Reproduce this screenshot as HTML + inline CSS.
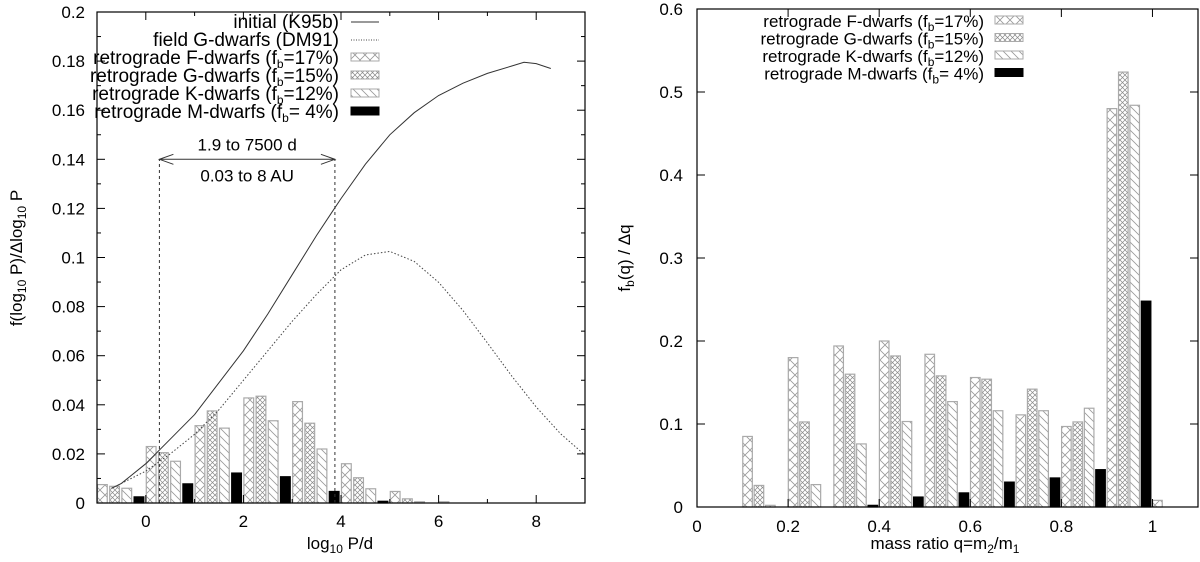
<!DOCTYPE html>
<html><head><meta charset="utf-8"><style>
html,body{margin:0;padding:0;background:#fff;}
svg{display:block;font-family:"Liberation Sans",Arial,sans-serif;}
</style></head><body>
<svg id="c" width="1200" height="562" viewBox="0 0 1200 562">
<defs>
<pattern id="pF" patternUnits="userSpaceOnUse" width="10" height="10"><path d="M0,0L10,10M10,0L0,10" stroke="#999" stroke-width="0.8" fill="none"/></pattern>
<pattern id="pG" patternUnits="userSpaceOnUse" width="5" height="5"><path d="M0,0L5,5M5,0L0,5" stroke="#888" stroke-width="0.7" fill="none"/></pattern>
<pattern id="pK" patternUnits="userSpaceOnUse" width="8" height="8"><path d="M0,0L8,8M-4,4L4,12M4,-4L12,4" stroke="#999" stroke-width="0.8" fill="none"/></pattern>
</defs>
<g id="left"></g>
<g id="right"></g>
</svg>
<script>
// ---- Left panel data ----
const pBins = [-1, 0, 1, 2, 3, 4, 5, 6, 7, 8];
const pF = [0.0075, 0.023, 0.0315, 0.0428, 0.0413, 0.016, 0.0047, 0.0005, 0, 0];
const pG = [0.0068, 0.0205, 0.0375, 0.0435, 0.0325, 0.0103, 0.0017, 0, 0, 0];
const pK = [0.006, 0.017, 0.0305, 0.0335, 0.022, 0.0058, 0.0005, 0, 0, 0];
const pM = [0.0025, 0.0078, 0.0122, 0.0107, 0.0047, 0.0007, 0, 0, 0, 0];
const initX = [-0.7, -0.5, 0, 0.5, 1, 1.5, 2, 2.5, 3, 3.5, 3.8, 4, 4.5, 5, 5.5, 6, 6.5, 7, 7.5, 7.75, 8, 8.3];
const initY = [0.006, 0.008, 0.016, 0.026, 0.036, 0.049, 0.062, 0.077, 0.093, 0.109, 0.118, 0.124, 0.138, 0.150, 0.159, 0.166, 0.171, 0.175, 0.178, 0.1795, 0.179, 0.177];
const dmX = [-0.7, -0.5, 0, 0.5, 1, 1.5, 2, 2.5, 3, 3.5, 4, 4.5, 5, 5.5, 6, 6.5, 7, 7.5, 8, 8.5, 9];
const dmY = [0.006, 0.008, 0.013, 0.020, 0.028, 0.038, 0.050, 0.062, 0.074, 0.085, 0.095, 0.101, 0.1025, 0.0984, 0.0899, 0.0784, 0.0652, 0.0517, 0.0391, 0.0282, 0.0195];
const pXTicks = [0, 2, 4, 6, 8];
const pYTicks = [0, 0.02, 0.04, 0.06, 0.08, 0.1, 0.12, 0.14, 0.16, 0.18, 0.2];
const rangeLo = Math.log10(1.9), rangeHi = Math.log10(7500), rangeY = 0.14;
// ---- Right panel data ----
const qBins = [0.1, 0.2, 0.3, 0.4, 0.5, 0.6, 0.7, 0.8, 0.9, 1.0];
const qF = [0.085, 0.18, 0.194, 0.2, 0.184, 0.156, 0.111, 0.097, 0.48, 0.008];
const qG = [0.026, 0.1025, 0.16, 0.182, 0.158, 0.154, 0.142, 0.1025, 0.524, 0];
const qK = [0.002, 0.027, 0.076, 0.103, 0.127, 0.116, 0.116, 0.119, 0.484, 0];
const qM = [0, 0, 0.002, 0.012, 0.017, 0.03, 0.035, 0.045, 0.248, 0];
const qXTicks = [0, 0.2, 0.4, 0.6, 0.8, 1];
const qXTickLabels = ["0", "0.2", "0.4", "0.6", "0.8", "1"];
const qYTicks = [0, 0.1, 0.2, 0.3, 0.4, 0.5, 0.6];

const NS = "http://www.w3.org/2000/svg";
const FS = 17;
function mk(parent, tag, attrs, text) {
  const e = document.createElementNS(NS, tag);
  for (const k in attrs) e.setAttribute(k, attrs[k]);
  if (text !== undefined) e.textContent = text;
  parent.appendChild(e);
  return e;
}
const fills = ["url(#pF)", "url(#pG)", "url(#pK)", "#000"];
const sers = ["f", "g", "k", "m"];
const sub = s => '<tspan font-size="12" dy="4">' + s + '</tspan>';

// ---------- LEFT ----------
(function () {
  const g = document.getElementById("left");
  const X0 = 97, X1 = 585, Y0 = 503, Y1 = 12;
  const xs = v => X0 + (v + 1) / 10 * (X1 - X0);
  const ys = v => Y0 - v / 0.2 * (Y0 - Y1);
  const series = [pF, pG, pK, pM];
  series.forEach((arr, si) => {
    arr.forEach((v, i) => {
      if (v <= 0) return;
      const x = xs(pBins[i] + si * 0.25 + 0.01), w = xs(pBins[i] + si * 0.25 + 0.21) - x;
      const r = mk(g, "rect", {x: x, y: ys(v), width: w, height: ys(0) - ys(v), fill: fills[si], stroke: si == 3 ? "#000" : "#aaa", "stroke-width": 1.2});
      
      
    });
  });
  let d = initX.map((x, i) => (i ? "L" : "M") + xs(x).toFixed(1) + "," + ys(initY[i]).toFixed(1)).join("");
  const c1 = mk(g, "path", {d: d, fill: "none", stroke: "#333", "stroke-width": 1});
  
  
  d = dmX.map((x, i) => (i ? "L" : "M") + xs(x).toFixed(1) + "," + ys(dmY[i]).toFixed(1)).join("");
  const c2 = mk(g, "path", {d: d, fill: "none", stroke: "#444", "stroke-width": 1, "stroke-dasharray": "1.5,2"});
  
  
  [rangeLo, rangeHi].forEach((v, i) => {
    const l = mk(g, "line", {x1: xs(v), x2: xs(v), y1: ys(0), y2: ys(rangeY), stroke: "#333", "stroke-dasharray": "3,3"});
    
    
  });
  const ya = ys(rangeY), xa = xs(rangeLo), xb = xs(rangeHi);
  const ar = mk(g, "path", {d: `M${xa},${ya}L${xb},${ya}M${xa + 14},${ya - 5}L${xa},${ya}L${xa + 14},${ya + 5}M${xb - 14},${ya - 5}L${xb},${ya}L${xb - 14},${ya + 5}`, fill: "none", stroke: "#333", "stroke-width": 1});
  
  
  const t1 = mk(g, "text", {x: (xa + xb) / 2, y: ya - 9, "text-anchor": "middle", "font-size": FS}, "1.9 to 7500 d");
  
  
  const t2 = mk(g, "text", {x: (xa + xb) / 2, y: ya + 22, "text-anchor": "middle", "font-size": FS}, "0.03 to 8 AU");
  
  
  const fr = mk(g, "rect", {x: X0, y: Y1, width: X1 - X0, height: Y0 - Y1, fill: "none", stroke: "#000", "stroke-width": 1.2});
  
  
  for (let v = -1; v <= 9; v++) {
    const len = v % 2 === 0 ? 8 : 4;
    mk(g, "line", {x1: xs(v), x2: xs(v), y1: Y0, y2: Y0 - len, stroke: "#000"});
    mk(g, "line", {x1: xs(v), x2: xs(v), y1: Y1, y2: Y1 + len, stroke: "#000"});
  }
  pXTicks.forEach(v => {
    const t = mk(g, "text", {x: xs(v), y: Y0 + 24, "text-anchor": "middle", "font-size": FS}, String(v));
    
    
  });
  for (let v = 0; v <= 0.2001; v += 0.01) {
    const major = Math.round(v * 100) % 2 === 0;
    const len = major ? 8 : 4;
    mk(g, "line", {x1: X0, x2: X0 + len, y1: ys(v), y2: ys(v), stroke: "#000"});
    mk(g, "line", {x1: X1, x2: X1 - len, y1: ys(v), y2: ys(v), stroke: "#000"});
  }
  pYTicks.forEach(v => {
    const t = mk(g, "text", {x: X0 - 12, y: ys(v) + 6, "text-anchor": "end", "font-size": FS}, String(v));
    
    
  });
  const xt = mk(g, "text", {x: 340, y: 549, "text-anchor": "middle", "font-size": FS});
  xt.innerHTML = 'log' + sub('10') + '<tspan dy="-4"> P/d</tspan>';
  
  
  const yt = mk(g, "text", {transform: "translate(22,258) rotate(-90)", "text-anchor": "middle", "font-size": FS});
  yt.innerHTML = 'f(log' + sub('10') + '<tspan dy="-4"> P)/Δlog</tspan>' + sub('10') + '<tspan dy="-4"> P</tspan>';
  
  
  const lg = mk(g, "g", {});
  
  
  const labels = [
    'initial (K95b)', 'field G-dwarfs (DM91)',
    'retrograde F-dwarfs (f' + sub('b') + '<tspan dy="-4">=17%)</tspan>',
    'retrograde G-dwarfs (f' + sub('b') + '<tspan dy="-4">=15%)</tspan>',
    'retrograde K-dwarfs (f' + sub('b') + '<tspan dy="-4">=12%)</tspan>',
    'retrograde M-dwarfs (f' + sub('b') + '<tspan dy="-4">= 4%)</tspan>'];
  labels.forEach((s, i) => {
    const y = 28 + i * 18;
    const t = mk(lg, "text", {x: 339, y: y, "text-anchor": "end", "font-size": 19});
    t.innerHTML = s;
    
    
    if (i === 0) mk(lg, "line", {x1: 351, x2: 379, y1: y - 6, y2: y - 6, stroke: "#333"});
    else if (i === 1) mk(lg, "line", {x1: 351, x2: 379, y1: y - 6, y2: y - 6, stroke: "#444", "stroke-dasharray": "1,1.5"});
    else mk(lg, "rect", {x: 351, y: y - 11, width: 28, height: 8, fill: fills[i - 2], stroke: i === 5 ? "#000" : "#aaa"});
  });
})();

// ---------- RIGHT ----------
(function () {
  const g = document.getElementById("right");
  const X0 = 697, X1 = 1198, Y0 = 507, Y1 = 9;
  const xs = v => X0 + v / 1.1 * (X1 - X0);
  const ys = v => Y0 - v / 0.6 * (Y0 - Y1);
  const series = [qF, qG, qK, qM];
  series.forEach((arr, si) => {
    arr.forEach((v, i) => {
      if (v <= 0) return;
      const x = xs(qBins[i] + si * 0.025 + 0.0005), w = xs(qBins[i] + si * 0.025 + 0.0215) - x;
      const r = mk(g, "rect", {x: x, y: ys(v), width: w, height: ys(0) - ys(v), fill: fills[si], stroke: si == 3 ? "#000" : "#aaa", "stroke-width": 1.2});
      
      
    });
  });
  const fr = mk(g, "rect", {x: X0, y: Y1, width: X1 - X0, height: Y0 - Y1, fill: "none", stroke: "#000", "stroke-width": 1.2});
  
  
  qXTicks.forEach((v, i) => {
    mk(g, "line", {x1: xs(v), x2: xs(v), y1: Y0, y2: Y0 - 8, stroke: "#000"});
    mk(g, "line", {x1: xs(v), x2: xs(v), y1: Y1, y2: Y1 + 8, stroke: "#000"});
    const t = mk(g, "text", {x: xs(v), y: Y0 + 25, "text-anchor": "middle", "font-size": FS}, qXTickLabels[i]);
    
    
  });
  qYTicks.forEach(v => {
    mk(g, "line", {x1: X0, x2: X0 + 8, y1: ys(v), y2: ys(v), stroke: "#000"});
    mk(g, "line", {x1: X1, x2: X1 - 8, y1: ys(v), y2: ys(v), stroke: "#000"});
    const t = mk(g, "text", {x: X0 - 14, y: ys(v) + 6, "text-anchor": "end", "font-size": FS}, String(v));
    
    
  });
  const xt = mk(g, "text", {x: 945, y: 549, "text-anchor": "middle", "font-size": FS});
  xt.innerHTML = 'mass ratio q=m' + sub('2') + '<tspan dy="-4">/m</tspan>' + sub('1');
  
  
  const yt = mk(g, "text", {transform: "translate(630,258) rotate(-90)", "text-anchor": "middle", "font-size": FS});
  yt.innerHTML = 'f' + sub('b') + '<tspan dy="-4">(q) / Δq</tspan>';
  
  
  const lg = mk(g, "g", {});
  
  
  const labels = [
    'retrograde F-dwarfs (f' + sub('b') + '<tspan dy="-4">=17%)</tspan>',
    'retrograde G-dwarfs (f' + sub('b') + '<tspan dy="-4">=15%)</tspan>',
    'retrograde K-dwarfs (f' + sub('b') + '<tspan dy="-4">=12%)</tspan>',
    'retrograde M-dwarfs (f' + sub('b') + '<tspan dy="-4">= 4%)</tspan>'];
  labels.forEach((s, i) => {
    const y = 27 + i * 17.5;
    const t = mk(lg, "text", {x: 984, y: y, "text-anchor": "end", "font-size": FS});
    t.innerHTML = s;
    
    
    mk(lg, "rect", {x: 995, y: y - 11, width: 28, height: 8, fill: fills[i], stroke: i === 3 ? "#000" : "#aaa"});
  });
})();
</script>
</body></html>
